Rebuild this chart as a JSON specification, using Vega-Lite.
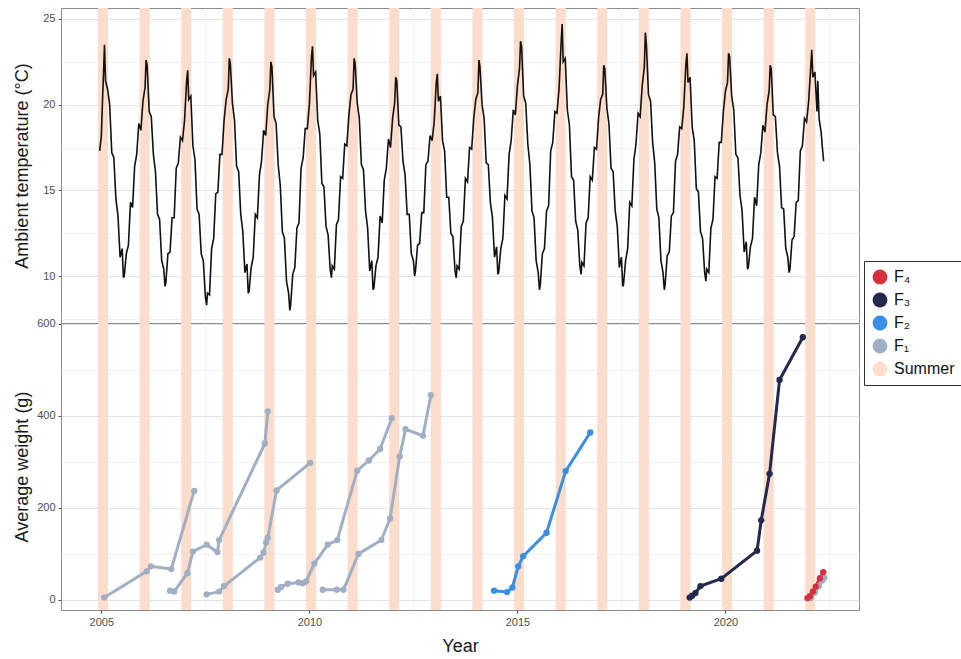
{
  "$schema": "https://vega.github.io/schema/vega-lite/v6.json",
  "padding": {"left": 13, "top": 7, "right": 0, "bottom": 0},
  "background": "white",
  "spacing": 0,
  "bounds": "flush",
  "config": {
    "font": "Liberation Sans",
    "view": {"stroke": "#8a8a8a", "strokeWidth": 1},
    "concat": {"spacing": 0},
    "axis": {"labelColor": "#4d4d4d", "labelFontSize": 11, "titleFontSize": 18, "titleFontWeight": "normal", "titleColor": "#1a1a1a", "domain": false, "tickColor": "#4d4d4d", "tickSize": 3, "labelPadding": 3, "gridColor": "#e8e8e8"},
    "legend": {"title": null, "orient": "none", "legendX": 803, "legendY": 253, "symbolType": "circle", "symbolSize": 220,
      "symbolStrokeWidth": 0, "labelFontSize": 16, "labelColor": "#111111", "labelFont": "Liberation Sans", "strokeColor": "#333333",
      "fillColor": "#ffffff", "padding": 8, "rowPadding": 7, "labelOffset": 6}
  },
  "datasets": {
    "summer": [
      {"s":"Summer","start":2004.917,"end":2005.16},{"s":"Summer","start":2005.917,"end":2006.16},{"s":"Summer","start":2006.917,"end":2007.16},{"s":"Summer","start":2007.917,"end":2008.16},{"s":"Summer","start":2008.917,"end":2009.16},{"s":"Summer","start":2009.917,"end":2010.16},{"s":"Summer","start":2010.917,"end":2011.16},{"s":"Summer","start":2011.917,"end":2012.16},{"s":"Summer","start":2012.917,"end":2013.16},{"s":"Summer","start":2013.917,"end":2014.16},{"s":"Summer","start":2014.917,"end":2015.16},{"s":"Summer","start":2015.917,"end":2016.16},{"s":"Summer","start":2016.917,"end":2017.16},{"s":"Summer","start":2017.917,"end":2018.16},{"s":"Summer","start":2018.917,"end":2019.16},{"s":"Summer","start":2019.917,"end":2020.16},{"s":"Summer","start":2020.917,"end":2021.16},{"s":"Summer","start":2021.917,"end":2022.16}
    ],
    "temp": [
      {"t":2004.96,"v":17.3},{"t":2005.0,"v":18.2},{"t":2005.03,"v":20.4},{"t":2005.05,"v":21.7},{"t":2005.075,"v":23.5},{"t":2005.1,"v":21.4},{"t":2005.15,"v":20.9},{"t":2005.2,"v":20.0},{"t":2005.25,"v":17.2},{"t":2005.3,"v":16.9},{"t":2005.35,"v":14.5},{"t":2005.4,"v":13.5},{"t":2005.45,"v":11.1},{"t":2005.5,"v":11.6},{"t":2005.53,"v":9.9},{"t":2005.55,"v":10.0},{"t":2005.6,"v":11.3},{"t":2005.65,"v":11.8},{"t":2005.7,"v":14.3},{"t":2005.75,"v":14.0},{"t":2005.8,"v":16.4},{"t":2005.85,"v":17.1},{"t":2005.9,"v":18.9},{"t":2005.95,"v":18.5},
      {"t":2006.0,"v":20.2},{"t":2006.05,"v":21.0},{"t":2006.075,"v":22.6},{"t":2006.1,"v":22.3},{"t":2006.15,"v":19.6},{"t":2006.2,"v":19.3},{"t":2006.25,"v":17.1},{"t":2006.3,"v":16.1},{"t":2006.35,"v":13.6},{"t":2006.4,"v":13.3},{"t":2006.45,"v":10.9},{"t":2006.5,"v":10.4},{"t":2006.53,"v":9.4},{"t":2006.55,"v":9.6},{"t":2006.6,"v":11.3},{"t":2006.65,"v":11.4},{"t":2006.7,"v":13.4},{"t":2006.75,"v":13.4},{"t":2006.8,"v":16.3},{"t":2006.85,"v":16.6},{"t":2006.9,"v":18.1},{"t":2006.95,"v":17.9},
      {"t":2007.0,"v":19.1},{"t":2007.05,"v":21.4},{"t":2007.075,"v":22.0},{"t":2007.1,"v":20.3},{"t":2007.15,"v":20.5},{"t":2007.2,"v":17.6},{"t":2007.25,"v":16.8},{"t":2007.3,"v":13.9},{"t":2007.35,"v":13.6},{"t":2007.4,"v":11.3},{"t":2007.45,"v":10.9},{"t":2007.5,"v":8.8},{"t":2007.53,"v":8.3},{"t":2007.55,"v":9.0},{"t":2007.6,"v":8.9},{"t":2007.65,"v":11.6},{"t":2007.7,"v":12.2},{"t":2007.75,"v":14.8},{"t":2007.8,"v":14.9},{"t":2007.85,"v":17.1},{"t":2007.9,"v":17.1},{"t":2007.95,"v":19.1},
      {"t":2008.0,"v":20.3},{"t":2008.05,"v":20.9},{"t":2008.075,"v":22.7},{"t":2008.1,"v":22.4},{"t":2008.15,"v":20.1},{"t":2008.2,"v":19.1},{"t":2008.25,"v":16.4},{"t":2008.3,"v":16.1},{"t":2008.35,"v":13.6},{"t":2008.4,"v":12.6},{"t":2008.45,"v":10.2},{"t":2008.5,"v":10.7},{"t":2008.53,"v":9.0},{"t":2008.55,"v":9.1},{"t":2008.6,"v":10.5},{"t":2008.65,"v":11.1},{"t":2008.7,"v":13.6},{"t":2008.75,"v":13.4},{"t":2008.8,"v":15.9},{"t":2008.85,"v":16.7},{"t":2008.9,"v":18.5},{"t":2008.95,"v":18.2},
      {"t":2009.0,"v":20.0},{"t":2009.05,"v":20.9},{"t":2009.075,"v":22.5},{"t":2009.1,"v":22.2},{"t":2009.15,"v":19.3},{"t":2009.2,"v":18.9},{"t":2009.25,"v":16.5},{"t":2009.3,"v":15.3},{"t":2009.35,"v":12.6},{"t":2009.4,"v":12.2},{"t":2009.45,"v":9.7},{"t":2009.5,"v":9.0},{"t":2009.53,"v":8.0},{"t":2009.55,"v":8.3},{"t":2009.6,"v":10.1},{"t":2009.65,"v":10.5},{"t":2009.7,"v":12.8},{"t":2009.75,"v":13.1},{"t":2009.8,"v":16.3},{"t":2009.85,"v":16.9},{"t":2009.9,"v":18.6},{"t":2009.95,"v":18.6},
      {"t":2010.0,"v":20.0},{"t":2010.05,"v":22.8},{"t":2010.075,"v":23.4},{"t":2010.1,"v":21.7},{"t":2010.15,"v":21.9},{"t":2010.2,"v":19.1},{"t":2010.25,"v":18.3},{"t":2010.3,"v":15.4},{"t":2010.35,"v":15.2},{"t":2010.4,"v":12.9},{"t":2010.45,"v":12.4},{"t":2010.5,"v":10.4},{"t":2010.53,"v":9.9},{"t":2010.55,"v":10.6},{"t":2010.6,"v":10.4},{"t":2010.65,"v":13.0},{"t":2010.7,"v":13.3},{"t":2010.75,"v":15.8},{"t":2010.8,"v":15.7},{"t":2010.85,"v":17.7},{"t":2010.9,"v":17.6},{"t":2010.95,"v":19.4},
      {"t":2011.0,"v":20.6},{"t":2011.05,"v":20.9},{"t":2011.075,"v":22.7},{"t":2011.1,"v":22.4},{"t":2011.15,"v":20.1},{"t":2011.2,"v":19.2},{"t":2011.25,"v":16.5},{"t":2011.3,"v":16.2},{"t":2011.35,"v":13.8},{"t":2011.4,"v":12.8},{"t":2011.45,"v":10.3},{"t":2011.5,"v":10.9},{"t":2011.53,"v":9.2},{"t":2011.55,"v":9.3},{"t":2011.6,"v":10.6},{"t":2011.65,"v":11.1},{"t":2011.7,"v":13.5},{"t":2011.75,"v":13.1},{"t":2011.8,"v":15.6},{"t":2011.85,"v":16.3},{"t":2011.9,"v":18.0},{"t":2011.95,"v":17.5},
      {"t":2012.0,"v":19.2},{"t":2012.05,"v":20.1},{"t":2012.075,"v":21.6},{"t":2012.1,"v":21.4},{"t":2012.15,"v":18.8},{"t":2012.2,"v":18.7},{"t":2012.25,"v":16.7},{"t":2012.3,"v":15.9},{"t":2012.35,"v":13.6},{"t":2012.4,"v":13.6},{"t":2012.45,"v":11.3},{"t":2012.5,"v":10.9},{"t":2012.53,"v":10.0},{"t":2012.55,"v":10.3},{"t":2012.6,"v":11.8},{"t":2012.65,"v":11.9},{"t":2012.7,"v":13.7},{"t":2012.75,"v":13.7},{"t":2012.8,"v":16.5},{"t":2012.85,"v":16.7},{"t":2012.9,"v":18.2},{"t":2012.95,"v":17.9},
      {"t":2013.0,"v":19.0},{"t":2013.05,"v":21.3},{"t":2013.075,"v":21.8},{"t":2013.1,"v":20.2},{"t":2013.15,"v":20.5},{"t":2013.2,"v":17.9},{"t":2013.25,"v":17.3},{"t":2013.3,"v":14.6},{"t":2013.35,"v":14.6},{"t":2013.4,"v":12.5},{"t":2013.45,"v":12.3},{"t":2013.5,"v":10.3},{"t":2013.53,"v":9.9},{"t":2013.55,"v":10.6},{"t":2013.6,"v":10.4},{"t":2013.65,"v":12.9},{"t":2013.7,"v":13.2},{"t":2013.75,"v":15.7},{"t":2013.8,"v":15.5},{"t":2013.85,"v":17.5},{"t":2013.9,"v":17.4},{"t":2013.95,"v":19.2},
      {"t":2014.0,"v":20.3},{"t":2014.05,"v":20.7},{"t":2014.075,"v":22.6},{"t":2014.1,"v":22.2},{"t":2014.15,"v":20.0},{"t":2014.2,"v":19.2},{"t":2014.25,"v":16.6},{"t":2014.3,"v":16.5},{"t":2014.35,"v":14.3},{"t":2014.4,"v":13.4},{"t":2014.45,"v":11.1},{"t":2014.5,"v":11.7},{"t":2014.53,"v":10.1},{"t":2014.55,"v":10.2},{"t":2014.6,"v":11.6},{"t":2014.65,"v":12.2},{"t":2014.7,"v":14.7},{"t":2014.75,"v":14.5},{"t":2014.8,"v":17.1},{"t":2014.85,"v":17.9},{"t":2014.9,"v":19.7},{"t":2014.95,"v":19.4},
      {"t":2015.0,"v":21.1},{"t":2015.05,"v":22.1},{"t":2015.075,"v":23.7},{"t":2015.1,"v":23.4},{"t":2015.15,"v":20.5},{"t":2015.2,"v":20.1},{"t":2015.25,"v":17.7},{"t":2015.3,"v":16.5},{"t":2015.35,"v":13.8},{"t":2015.4,"v":13.4},{"t":2015.45,"v":10.9},{"t":2015.5,"v":10.2},{"t":2015.53,"v":9.2},{"t":2015.55,"v":9.5},{"t":2015.6,"v":11.3},{"t":2015.65,"v":11.6},{"t":2015.7,"v":13.8},{"t":2015.75,"v":14.1},{"t":2015.8,"v":17.3},{"t":2015.85,"v":17.8},{"t":2015.9,"v":19.6},{"t":2015.95,"v":19.5},
      {"t":2016.0,"v":20.9},{"t":2016.05,"v":23.6},{"t":2016.075,"v":24.7},{"t":2016.1,"v":22.5},{"t":2016.15,"v":22.7},{"t":2016.2,"v":19.7},{"t":2016.25,"v":18.8},{"t":2016.3,"v":15.8},{"t":2016.35,"v":15.6},{"t":2016.4,"v":13.2},{"t":2016.45,"v":12.7},{"t":2016.5,"v":10.6},{"t":2016.53,"v":10.1},{"t":2016.55,"v":10.8},{"t":2016.6,"v":10.6},{"t":2016.65,"v":13.1},{"t":2016.7,"v":13.4},{"t":2016.75,"v":15.8},{"t":2016.8,"v":15.6},{"t":2016.85,"v":17.5},{"t":2016.9,"v":17.4},{"t":2016.95,"v":19.2},
      {"t":2017.0,"v":20.3},{"t":2017.05,"v":20.6},{"t":2017.075,"v":22.3},{"t":2017.1,"v":22.1},{"t":2017.15,"v":19.8},{"t":2017.2,"v":18.9},{"t":2017.25,"v":16.3},{"t":2017.3,"v":16.1},{"t":2017.35,"v":13.8},{"t":2017.4,"v":12.9},{"t":2017.45,"v":10.5},{"t":2017.5,"v":11.1},{"t":2017.53,"v":9.4},{"t":2017.55,"v":9.5},{"t":2017.6,"v":10.9},{"t":2017.65,"v":11.6},{"t":2017.7,"v":14.3},{"t":2017.75,"v":14.1},{"t":2017.8,"v":16.8},{"t":2017.85,"v":17.7},{"t":2017.9,"v":19.5},{"t":2017.95,"v":19.3},
      {"t":2018.0,"v":21.1},{"t":2018.05,"v":22.2},{"t":2018.075,"v":24.2},{"t":2018.1,"v":23.5},{"t":2018.15,"v":20.6},{"t":2018.2,"v":20.2},{"t":2018.25,"v":17.8},{"t":2018.3,"v":16.6},{"t":2018.35,"v":13.9},{"t":2018.4,"v":13.4},{"t":2018.45,"v":10.9},{"t":2018.5,"v":10.2},{"t":2018.53,"v":9.2},{"t":2018.55,"v":9.5},{"t":2018.6,"v":11.2},{"t":2018.65,"v":11.4},{"t":2018.7,"v":13.5},{"t":2018.75,"v":13.7},{"t":2018.8,"v":16.7},{"t":2018.85,"v":17.1},{"t":2018.9,"v":18.7},{"t":2018.95,"v":18.6},
      {"t":2019.0,"v":19.9},{"t":2019.05,"v":22.4},{"t":2019.075,"v":23.0},{"t":2019.1,"v":21.3},{"t":2019.15,"v":21.6},{"t":2019.2,"v":18.7},{"t":2019.25,"v":17.9},{"t":2019.3,"v":15.1},{"t":2019.35,"v":14.9},{"t":2019.4,"v":12.6},{"t":2019.45,"v":12.2},{"t":2019.5,"v":10.2},{"t":2019.53,"v":9.7},{"t":2019.55,"v":10.4},{"t":2019.6,"v":10.2},{"t":2019.65,"v":12.8},{"t":2019.7,"v":13.3},{"t":2019.75,"v":15.8},{"t":2019.8,"v":15.7},{"t":2019.85,"v":17.8},{"t":2019.9,"v":17.8},{"t":2019.95,"v":19.6},
      {"t":2020.0,"v":20.8},{"t":2020.05,"v":21.3},{"t":2020.075,"v":23.0},{"t":2020.1,"v":22.8},{"t":2020.15,"v":20.5},{"t":2020.2,"v":19.7},{"t":2020.25,"v":17.1},{"t":2020.3,"v":16.9},{"t":2020.35,"v":14.7},{"t":2020.4,"v":13.8},{"t":2020.45,"v":11.4},{"t":2020.5,"v":12.0},{"t":2020.53,"v":10.4},{"t":2020.55,"v":10.5},{"t":2020.6,"v":11.7},{"t":2020.65,"v":12.2},{"t":2020.7,"v":14.6},{"t":2020.75,"v":14.1},{"t":2020.8,"v":16.5},{"t":2020.85,"v":17.2},{"t":2020.9,"v":18.8},{"t":2020.95,"v":18.4},
      {"t":2021.0,"v":20.0},{"t":2021.05,"v":20.8},{"t":2021.075,"v":22.3},{"t":2021.1,"v":22.1},{"t":2021.15,"v":19.4},{"t":2021.2,"v":19.3},{"t":2021.25,"v":17.2},{"t":2021.3,"v":16.4},{"t":2021.35,"v":14.0},{"t":2021.4,"v":13.9},{"t":2021.45,"v":11.6},{"t":2021.5,"v":11.1},{"t":2021.53,"v":10.2},{"t":2021.55,"v":10.4},{"t":2021.6,"v":12.1},{"t":2021.65,"v":12.3},{"t":2021.7,"v":14.3},{"t":2021.75,"v":14.4},{"t":2021.8,"v":17.3},{"t":2021.85,"v":17.6},{"t":2021.9,"v":19.2},{"t":2021.95,"v":19.0},
      {"t":2022.0,"v":20.2},{"t":2022.05,"v":22.2},{"t":2022.075,"v":23.2},{"t":2022.1,"v":21.6},{"t":2022.15,"v":21.9},{"t":2022.2,"v":19.6},{"t":2022.22,"v":21.4},{"t":2022.25,"v":19.2},{"t":2022.3,"v":18.4},{"t":2022.33,"v":17.5},{"t":2022.36,"v":16.7}
    ],
    "weight": [
      {"c":"A","g":"F₁","t":2005.07,"w":5},{"c":"A","g":"F₁","t":2006.09,"w":62},{"c":"A","g":"F₁","t":2006.19,"w":73},{"c":"A","g":"F₁","t":2006.68,"w":67},{"c":"A","g":"F₁","t":2007.23,"w":237},
      {"c":"B","g":"F₁","t":2006.65,"w":20},{"c":"B","g":"F₁","t":2006.75,"w":18},{"c":"B","g":"F₁","t":2007.07,"w":58},{"c":"B","g":"F₁","t":2007.2,"w":105},{"c":"B","g":"F₁","t":2007.53,"w":120},{"c":"B","g":"F₁","t":2007.79,"w":104},{"c":"B","g":"F₁","t":2007.83,"w":130},{"c":"B","g":"F₁","t":2008.93,"w":340},{"c":"B","g":"F₁","t":2009.0,"w":410},
      {"c":"C","g":"F₁","t":2007.53,"w":12},{"c":"C","g":"F₁","t":2007.83,"w":18},{"c":"C","g":"F₁","t":2007.95,"w":30},{"c":"C","g":"F₁","t":2008.82,"w":92},{"c":"C","g":"F₁","t":2008.9,"w":103},{"c":"C","g":"F₁","t":2008.96,"w":125},{"c":"C","g":"F₁","t":2009.0,"w":135},{"c":"C","g":"F₁","t":2009.21,"w":238},{"c":"C","g":"F₁","t":2010.02,"w":298},
      {"c":"D","g":"F₁","t":2009.24,"w":22},{"c":"D","g":"F₁","t":2009.32,"w":28},{"c":"D","g":"F₁","t":2009.48,"w":35},{"c":"D","g":"F₁","t":2009.74,"w":38},{"c":"D","g":"F₁","t":2009.84,"w":36},{"c":"D","g":"F₁","t":2009.92,"w":40},{"c":"D","g":"F₁","t":2010.12,"w":79},{"c":"D","g":"F₁","t":2010.44,"w":120},{"c":"D","g":"F₁","t":2010.67,"w":130},{"c":"D","g":"F₁","t":2011.15,"w":281},{"c":"D","g":"F₁","t":2011.43,"w":303},{"c":"D","g":"F₁","t":2011.7,"w":328},{"c":"D","g":"F₁","t":2011.98,"w":395},
      {"c":"E","g":"F₁","t":2010.32,"w":22},{"c":"E","g":"F₁","t":2010.66,"w":22},{"c":"E","g":"F₁","t":2010.82,"w":22},{"c":"E","g":"F₁","t":2011.18,"w":100},{"c":"E","g":"F₁","t":2011.73,"w":130},{"c":"E","g":"F₁","t":2011.94,"w":177},{"c":"E","g":"F₁","t":2012.17,"w":312},{"c":"E","g":"F₁","t":2012.31,"w":371},{"c":"E","g":"F₁","t":2012.73,"w":357},{"c":"E","g":"F₁","t":2012.92,"w":445},
      {"c":"I","g":"F₁","t":2022.05,"w":4},{"c":"I","g":"F₁","t":2022.15,"w":16},{"c":"I","g":"F₁","t":2022.25,"w":30},{"c":"I","g":"F₁","t":2022.33,"w":42},{"c":"I","g":"F₁","t":2022.38,"w":48},
      {"c":"G","g":"F₂","t":2014.44,"w":20},{"c":"G","g":"F₂","t":2014.75,"w":17},{"c":"G","g":"F₂","t":2014.88,"w":27},{"c":"G","g":"F₂","t":2015.02,"w":73},{"c":"G","g":"F₂","t":2015.14,"w":95},{"c":"G","g":"F₂","t":2015.7,"w":146},{"c":"G","g":"F₂","t":2016.16,"w":280},{"c":"G","g":"F₂","t":2016.75,"w":364},
      {"c":"H","g":"F₃","t":2019.14,"w":5},{"c":"H","g":"F₃","t":2019.2,"w":9},{"c":"H","g":"F₃","t":2019.28,"w":15},{"c":"H","g":"F₃","t":2019.4,"w":30},{"c":"H","g":"F₃","t":2019.9,"w":46},{"c":"H","g":"F₃","t":2020.76,"w":107},{"c":"H","g":"F₃","t":2020.86,"w":173},{"c":"H","g":"F₃","t":2021.06,"w":274},{"c":"H","g":"F₃","t":2021.3,"w":478},{"c":"H","g":"F₃","t":2021.86,"w":571},
      {"c":"J","g":"F₄","t":2021.97,"w":4},{"c":"J","g":"F₄","t":2022.03,"w":8},{"c":"J","g":"F₄","t":2022.1,"w":18},{"c":"J","g":"F₄","t":2022.17,"w":29},{"c":"J","g":"F₄","t":2022.27,"w":47},{"c":"J","g":"F₄","t":2022.35,"w":60}
    ]
  },
  "resolve": {"scale": {"color": "shared"}, "legend": {"color": "shared"}},
  "vconcat": [
    {
      "width": 798,
      "height": 315,
      "layer": [
        {
          "data": {"name": "summer"},
          "mark": {"type": "rect", "opacity": 1},
          "encoding": {
            "x": {"field": "start", "type": "quantitative", "scale": {"domain": [2004.03, 2023.21], "nice": false, "zero": false},
              "axis": {"title": null, "labels": false, "ticks": false, "grid": true, "labelPadding": 0, "tickSize": 0, "minExtent": 0, "maxExtent": 0, "offset": 0, "values": [2005, 2007.5, 2010, 2012.5, 2015, 2017.5, 2020, 2022.5],
                "gridColor": {"condition": {"test": "datum.value % 5 !== 0", "value": "#f1f1f1"}, "value": "#e4e4e4"}}},
            "x2": {"field": "end"},
            "color": {"field": "s", "type": "nominal",
              "scale": {"domain": ["F₄", "F₃", "F₂", "F₁", "Summer"], "range": ["#d6303f", "#24284e", "#3a8ee6", "#a1afc4", "#fcdccb"]}}
          }
        },
        {
          "data": {"name": "temp"},
          "mark": {"type": "line", "color": "#111111", "strokeWidth": 1.6},
          "encoding": {
            "x": {"field": "t", "type": "quantitative"},
            "y": {"field": "v", "type": "quantitative", "scale": {"domain": [7.26, 25.64], "nice": false, "zero": false},
              "axis": {"title": "Ambient temperature (°C)", "titlePadding": 11, "values": [7.5, 10, 12.5, 15, 17.5, 20, 22.5, 25],
                "labelExpr": "datum.value % 5 === 0 ? datum.label : ''",
                "tickOpacity": {"condition": {"test": "datum.value % 5 !== 0", "value": 0}, "value": 1},
                "gridColor": {"condition": {"test": "datum.value % 5 !== 0", "value": "#f1f1f1"}, "value": "#e4e4e4"}}}
          }
        }
      ]
    },
    {
      "width": 798,
      "height": 287,
      "layer": [
        {
          "data": {"name": "summer"},
          "mark": {"type": "rect", "opacity": 1},
          "encoding": {
            "x": {"field": "start", "type": "quantitative", "scale": {"domain": [2004.03, 2023.21], "nice": false, "zero": false},
              "axis": {"title": "Year", "titlePadding": 10, "format": "d", "values": [2005, 2007.5, 2010, 2012.5, 2015, 2017.5, 2020, 2022.5],
                "labelExpr": "datum.value % 5 === 0 ? datum.label : ''",
                "tickOpacity": {"condition": {"test": "datum.value % 5 !== 0", "value": 0}, "value": 1},
                "gridColor": {"condition": {"test": "datum.value % 5 !== 0", "value": "#f1f1f1"}, "value": "#e4e4e4"}}},
            "x2": {"field": "end"},
            "color": {"field": "s", "type": "nominal",
              "scale": {"domain": ["F₄", "F₃", "F₂", "F₁", "Summer"], "range": ["#d6303f", "#24284e", "#3a8ee6", "#a1afc4", "#fcdccb"]}}
          }
        },
        {
          "data": {"name": "weight"},
          "mark": {"type": "line", "strokeWidth": 3, "point": {"filled": true, "size": 40}},
          "encoding": {
            "x": {"field": "t", "type": "quantitative"},
            "y": {"field": "w", "type": "quantitative", "scale": {"domain": [-22, 602], "nice": false, "zero": false},
              "axis": {"title": "Average weight (g)", "titlePadding": 5, "values": [0, 100, 200, 300, 400, 500, 600],
                "labelExpr": "datum.value % 200 === 0 ? datum.label : ''",
                "tickOpacity": {"condition": {"test": "datum.value % 200 !== 0", "value": 0}, "value": 1},
                "gridColor": {"condition": {"test": "datum.value % 200 !== 0", "value": "#f1f1f1"}, "value": "#e4e4e4"}}},
            "color": {"field": "g", "type": "nominal",
              "scale": {"domain": ["F₄", "F₃", "F₂", "F₁", "Summer"], "range": ["#d6303f", "#24284e", "#3a8ee6", "#a1afc4", "#fcdccb"]}},
            "detail": {"field": "c"}
          }
        }
      ]
    }
  ]
}
